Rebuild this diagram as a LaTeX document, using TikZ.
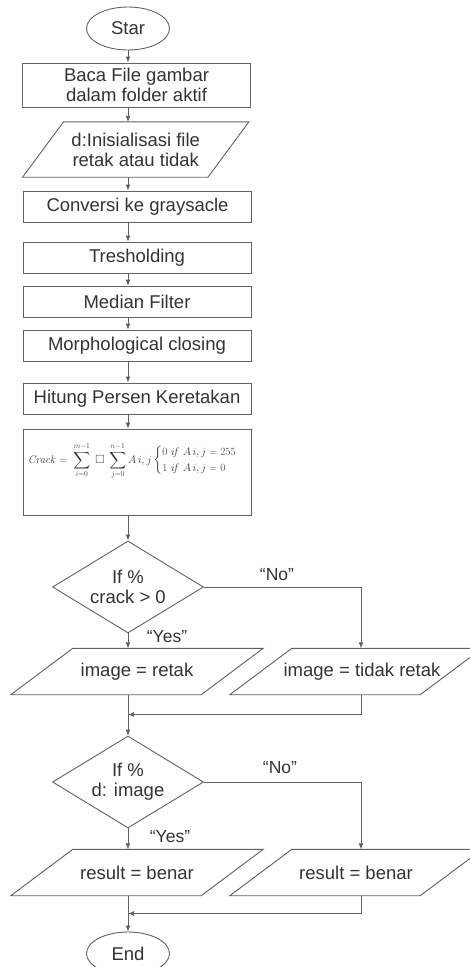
\documentclass[tikz,border=0pt]{standalone}
\usepackage[no-math]{fontspec}
\setmainfont{Liberation Sans}
\usepackage{amsmath,amssymb}
\usepackage{graphicx}
\usetikzlibrary{shapes.geometric,arrows.meta}
\definecolor{ln}{gray}{0.38}
\definecolor{tx}{gray}{0.2}
\newcommand\paradraw[2]{\draw[line] ([xshift=#2pt]#1.north west) -- ([xshift=#2pt]#1.north east) -- ([xshift=-#2pt]#1.south east) -- ([xshift=-#2pt]#1.south west) -- cycle;}
\begin{document}
\begin{tikzpicture}[x=1pt,y=-1pt,
 every node/.style={text=tx,font=\fontsize{18.5}{20}\selectfont,align=center,inner sep=0pt},
 line/.style={draw=ln,line width=0.9pt},
 arr/.style={line,-{Latex[length=6pt,width=5pt]}},
 proc/.style={rectangle,draw=ln,line width=0.9pt,minimum width=228pt},
 term/.style={ellipse,draw=ln,line width=0.9pt,minimum width=83pt,minimum height=43pt},
 io/.style={rectangle,minimum width=190pt,minimum height=46pt},
 dec/.style={diamond,draw=ln,line width=0.9pt,aspect=1.64,minimum width=151pt,minimum height=92pt},
 lab/.style={font=\fontsize{17.5}{20}\selectfont}]
\useasboundingbox (0,0) rectangle (469,967);
\node[term] (start) at (128,28.5) {Star};
\node[proc,minimum height=44pt] (b1) at (136.5,85) {Baca File gambar\\dalam folder aktif};
\node[rectangle,minimum width=185pt,minimum height=55pt] (p1) at (135.75,149.5) {d:Inisialisasi file\\retak atau tidak};
\node[proc,minimum height=31pt] (b2) at (137.5,206.5) {Conversi ke graysacle};
\node[proc,minimum height=31pt] (b3) at (137,257.5) {Tresholding};
\node[proc,minimum height=31pt] (b4) at (137,301.5) {Median Filter};
\node[proc,minimum height=31pt] (b5) at (137,345.5) {Morphological closing};
\node[proc,minimum height=31pt] (b6) at (137,398.5) {Hitung Persen Keretakan};
\node[proc,minimum height=86pt] (b7) at (137,472) {};
\node (f) at (138,461) {\resizebox{220pt}{!}{$\displaystyle \mathit{Crack} = \;\sum_{i=0}^{m-1}\; \square \;\sum_{j=0}^{n-1} A\,i,j \begin{cases} 0\ \mathit{if}\ A\,i,j=255\\ 1\ \mathit{if}\ A\,i,j=0\end{cases}$}};
\node[dec] (d1) at (128,587) {If \%\\crack > 0};
\node[io] (l1) at (137,671.5) {image = retak};
\node[io] (r1) at (356,671.5) {\hspace*{12pt}image = tidak retak};
\coordinate (rx) at (361,0);
\coordinate (m1) at (128,714.5);
\node[dec] (d2) at (128,782) {If \%\\d: image};
\node[io] (l2) at (137,872.5) {result = benar};
\node[io] (r2) at (356,872.5) {result = benar};
\coordinate (m2) at (128,913.5);
\node[term] (end) at (128,953.5) {End};
\node[lab] (no1) at (277,575) {“No”};
\node[lab] (yes1) at (167,637) {“Yes”};
\node[lab] (no2) at (280,768) {“No”};
\node[lab] (yes2) at (170,837) {“Yes”};
\paradraw{p1}{20.5}
\paradraw{l1}{31}
\paradraw{r1}{31}
\paradraw{l2}{31}
\paradraw{r2}{31}
\draw[arr] (start) -- (start |- b1.north);
\draw[arr] (b1.south -| start) -- (p1.north -| start);
\draw[arr] (p1.south -| start) -- (b2.north -| start);
\draw[arr] (b2.south -| start) -- (b3.north -| start);
\draw[arr] (b3.south -| start) -- (b4.north -| start);
\draw[arr] (b4.south -| start) -- (b5.north -| start);
\draw[arr] (b5.south -| start) -- (b6.north -| start);
\draw[arr] (b6.south -| start) -- (b7.north -| start);
\draw[arr] (b7.south -| start) -- (d1.north);
\draw[arr] (d1.south) -- (l1.north -| d1);
\draw[arr] (d1.east) -| (r1.north -| rx);
\draw[arr] (l1.south -| d1) -- (d2.north);
\draw[arr] (r1.south -| rx) |- (m1);
\draw[arr] (d2.south) -- (l2.north -| d2);
\draw[arr] (d2.east) -| (r2.north -| rx);
\draw[arr] (l2.south -| d2) -- (end);
\draw[arr] (r2.south -| rx) |- (m2);
\end{tikzpicture}
\end{document}
